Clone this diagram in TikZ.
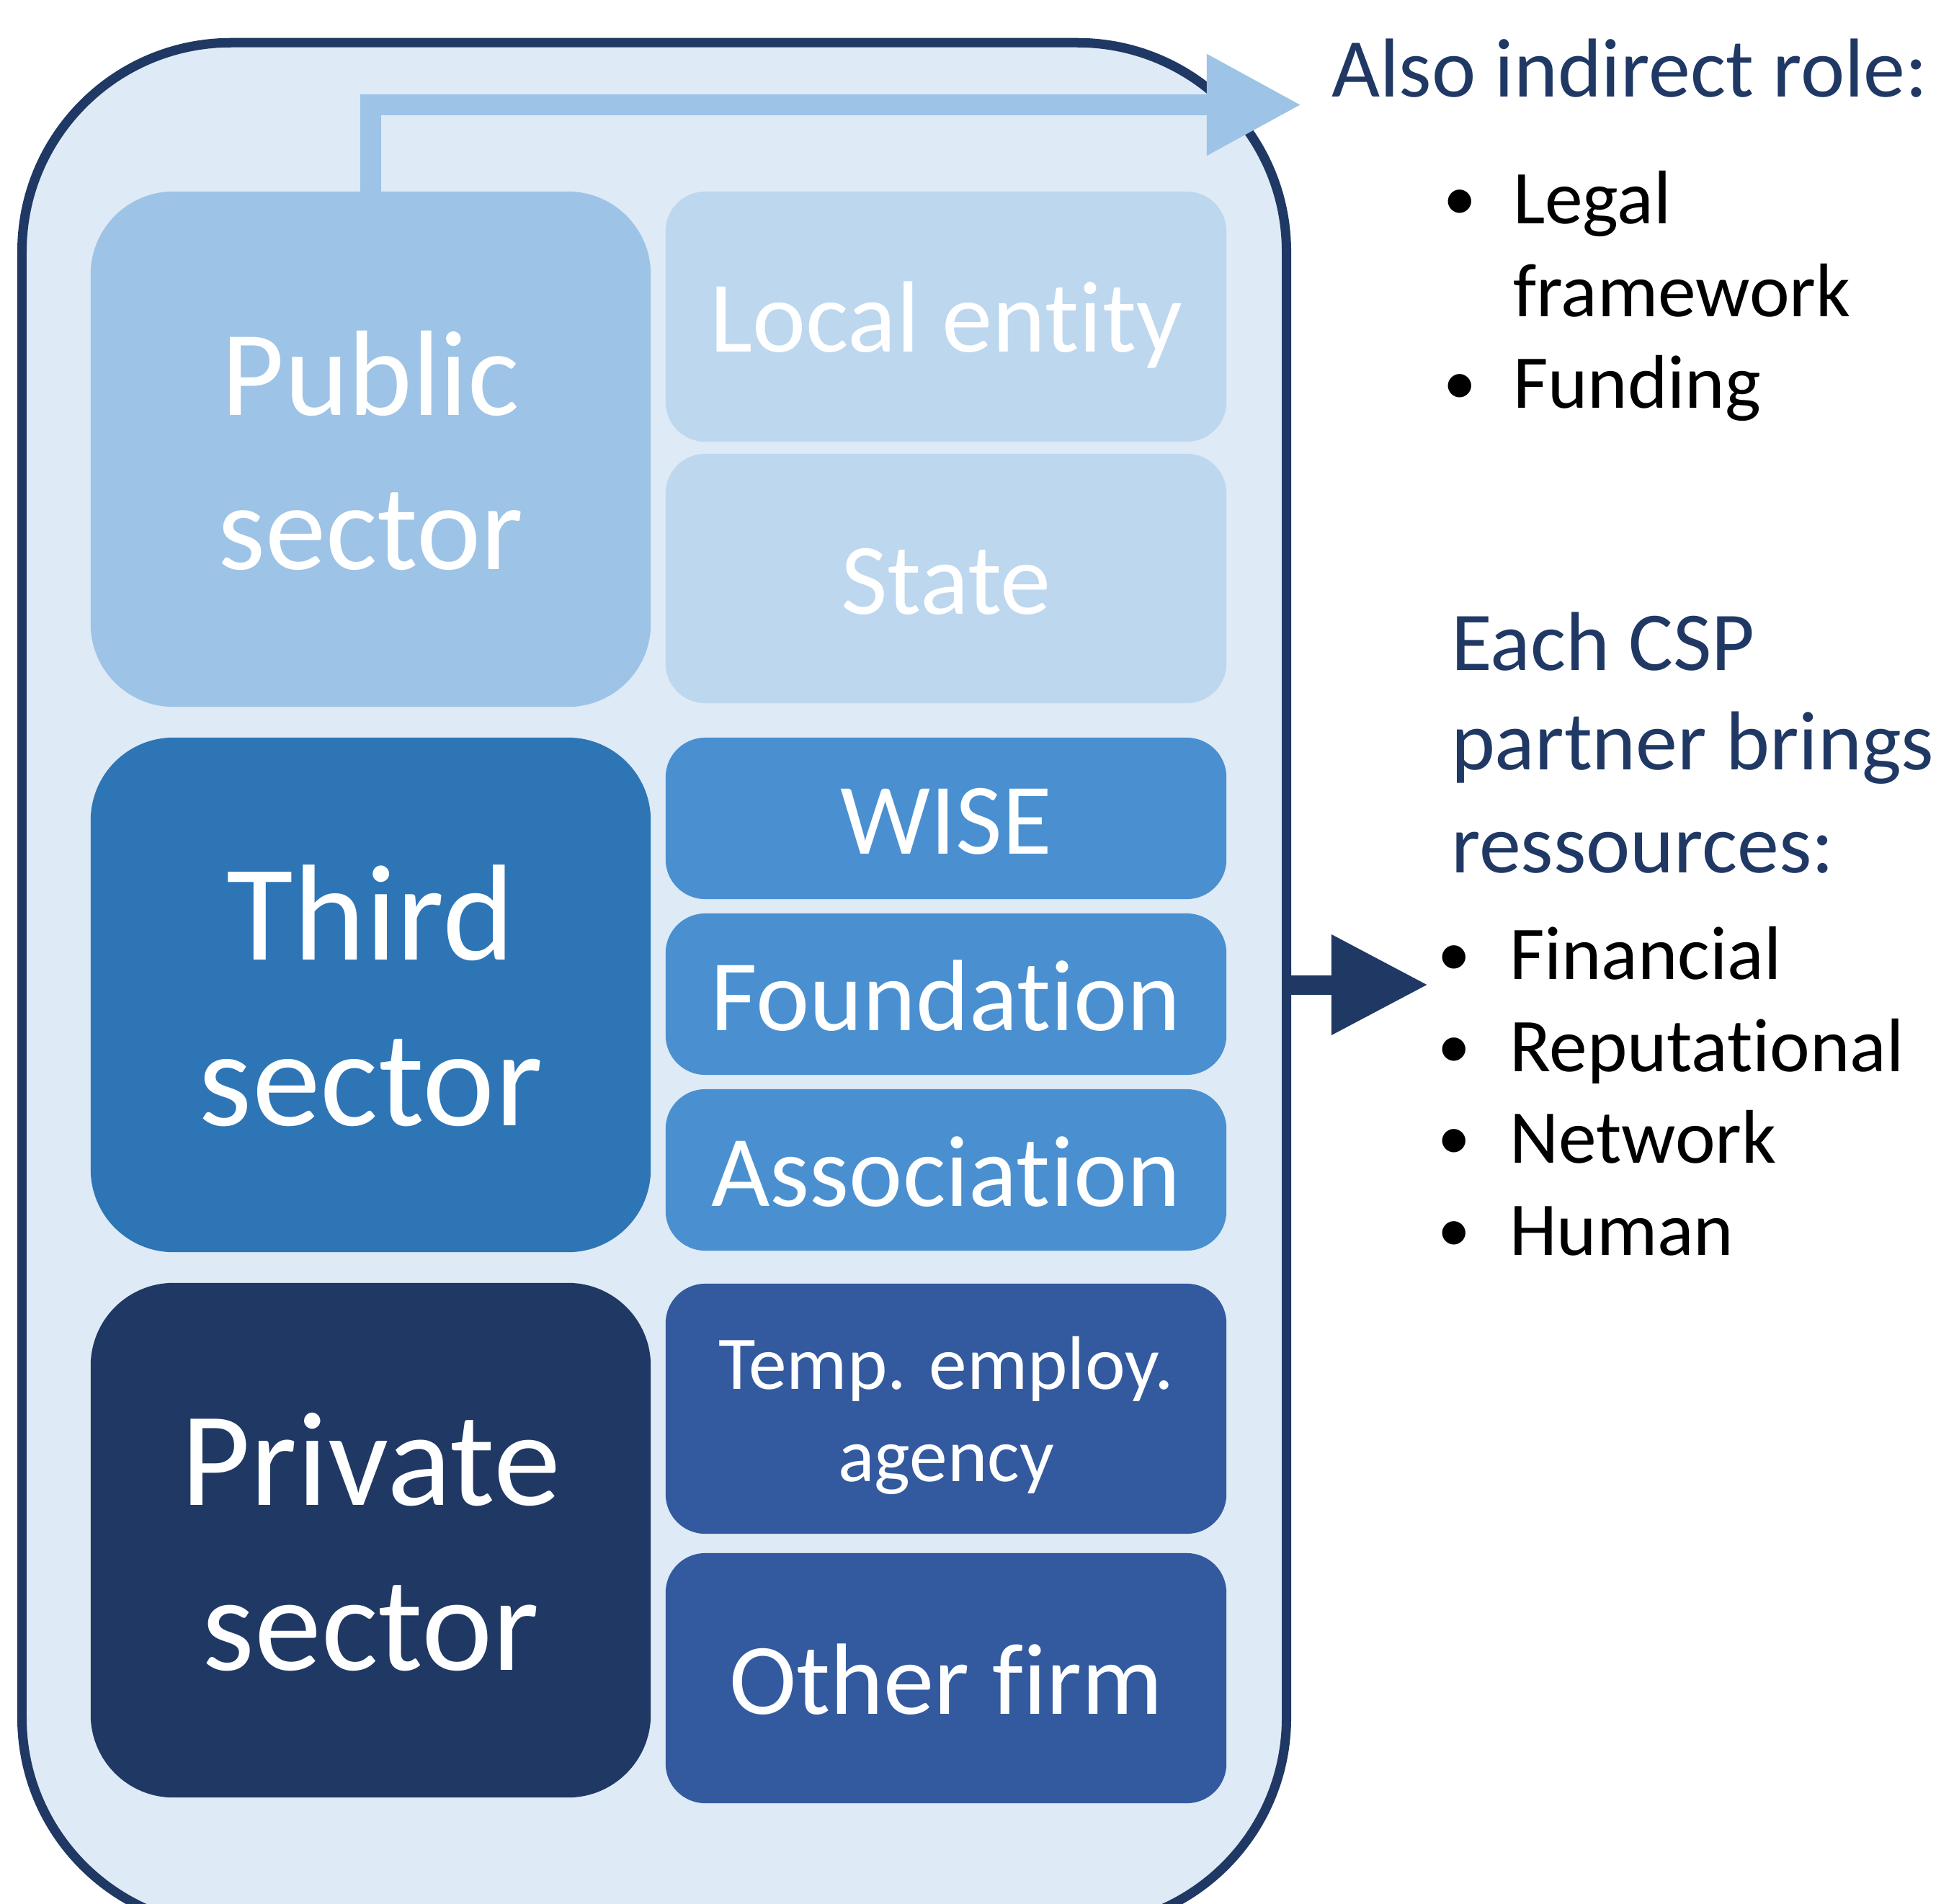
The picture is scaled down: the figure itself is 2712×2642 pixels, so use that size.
\documentclass[tikz,border=0pt]{standalone}
\usepackage{fontspec}
\setmainfont{Carlito}[Ligatures=NoCommon]
\usetikzlibrary{arrows.meta}
\definecolor{outerfill}{HTML}{DEEAF6}
\definecolor{navy}{HTML}{203864}
\definecolor{pubc}{HTML}{9DC3E6}
\definecolor{pubsub}{HTML}{BDD7EE}
\definecolor{thirdc}{HTML}{2E75B6}
\definecolor{thirdsub}{HTML}{4A90D0}
\definecolor{privc}{HTML}{203864}
\definecolor{privsub}{HTML}{335A9E}
\begin{document}
\begin{tikzpicture}[x=0.01cm, y=-0.01cm,
  sectorbox/.style={shape=rectangle, rounded corners=1.15cm, minimum width=7.77cm, minimum height=7.14cm, inner sep=0pt, outer sep=0pt},
  memberbox/.style={shape=rectangle, rounded corners=0.55cm, minimum width=7.78cm, inner sep=0pt, outer sep=0pt},
  wtxt/.style={inner sep=0pt, outer sep=0pt, anchor=base, text=white},
  rtxt/.style={inner sep=0pt, outer sep=0pt, anchor=base west},
  bul/.style={inner sep=0pt, outer sep=0pt, anchor=base, text=black, font=\fontsize{26}{32}\selectfont},
  fatarrow/.style={line width=#1, line join=miter, line cap=butt}
]
\useasboundingbox (0,0) rectangle (2712,2642);

% outer container
\node[draw=navy, line width=0.13cm, fill=outerfill, rounded corners=2.9cm,
      minimum width=17.54cm, minimum height=26.14cm, inner sep=0pt, outer sep=0pt] (outer) at (908,1367) {};

% sector boxes
\node[sectorbox, fill=pubc, minimum height=7.15cm] (pub) at (514.5,623.5) {};
\node[sectorbox, fill=thirdc] (third) at (514.5,1381) {};
\node[sectorbox, fill=privc] (priv) at (514.5,2138) {};

% member boxes
\node[memberbox, fill=pubsub, minimum height=3.47cm] (local) at (1313,439.5) {};
\node[memberbox, fill=pubsub, minimum height=3.46cm] (state) at (1313,803) {};
\node[memberbox, fill=thirdsub, minimum height=2.24cm] (wise) at (1313,1136) {};
\node[memberbox, fill=thirdsub, minimum height=2.24cm] (found) at (1313,1380) {};
\node[memberbox, fill=thirdsub, minimum height=2.24cm] (assoc) at (1313,1624) {};
\node[memberbox, fill=privsub, minimum height=3.47cm] (temp) at (1313,1955.5) {};
\node[memberbox, fill=privsub, minimum height=3.47cm] (other) at (1313,2329.5) {};

% texts in sector boxes
\node[wtxt, font=\fontsize{48}{58}\selectfont] (pubA) at (514.5,576) {Public};
\node[wtxt, font=\fontsize{48}{58}\selectfont] (pubB) at (514.5,790) {sector};
\node[wtxt, font=\fontsize{54}{65}\selectfont] (thirdA) at (514.5,1332) {Third};
\node[wtxt, font=\fontsize{54}{65}\selectfont] (thirdB) at (514.5,1562) {sector};
\node[wtxt, font=\fontsize{53}{64}\selectfont] (privA) at (514.5,2089) {Private};
\node[wtxt, font=\fontsize{53}{64}\selectfont] (privB) at (514.5,2318) {sector};

% texts in member boxes
\node[wtxt, font=\fontsize{40}{48}\selectfont] (localT) at (1313,488) {Local entity};
\node[wtxt, font=\fontsize{40}{48}\selectfont] (stateT) at (1313,852) {State};
\node[wtxt, font=\fontsize{40}{48}\selectfont] (wiseT) at (1313,1185) {WISE};
\node[wtxt, font=\fontsize{40}{48}\selectfont] (foundT) at (1313,1430) {Foundation};
\node[wtxt, font=\fontsize{40}{48}\selectfont] (assocT) at (1313,1674) {Association};
\node[wtxt, font=\fontsize{30}{36}\selectfont] (tempA) at (1313,1928) {Temp. employ.};
\node[wtxt, font=\fontsize{30}{36}\selectfont] (tempB) at (1313,2056) {agency};
\node[wtxt, font=\fontsize{40}{48}\selectfont] (otherT) at (1313,2379) {Other firm};

% arrows
\coordinate (topend) at (1806,145.5);
\draw[fatarrow=0.28cm, draw=pubc, -{Triangle[length=1.31cm, width=1.33cm]}] (pub.north) |- (topend);
\coordinate (resend) at (1982,1367);
\draw[fatarrow=0.27cm, draw=navy, -{Triangle[length=1.34cm, width=1.32cm]}] (outer.east) -- (resend);

% right-hand texts
\node[rtxt, text=navy, font=\fontsize{33}{40}\selectfont] (role) at (1848,134) {Also indirect role:};
\node[bul] (b1) at (2026,305) {•};
\node[rtxt, font=\fontsize{30}{36}\selectfont] (legal) at (2100,310) {Legal};
\node[rtxt, font=\fontsize{30}{36}\selectfont] (frame) at (2100,439) {framework};
\node[bul] (b2) at (2026,561) {•};
\node[rtxt, font=\fontsize{30}{36}\selectfont] (fund) at (2100,566) {Funding};

\node[rtxt, text=navy, font=\fontsize{33}{40}\selectfont] (eachA) at (2014,930) {Each CSP};
\node[rtxt, text=navy, font=\fontsize{33}{40}\selectfont] (eachB) at (2014,1068) {partner brings};
\node[rtxt, text=navy, font=\fontsize{33}{40}\selectfont] (eachC) at (2014,1211) {ressources:};

\node[bul] (b3) at (2018,1354) {•};
\node[rtxt, font=\fontsize{30}{36}\selectfont] (fin) at (2095,1359) {Financial};
\node[bul] (b4) at (2018,1482) {•};
\node[rtxt, font=\fontsize{30}{36}\selectfont] (rep) at (2095,1487) {Reputational};
\node[bul] (b5) at (2018,1609) {•};
\node[rtxt, font=\fontsize{30}{36}\selectfont] (net) at (2095,1614) {Network};
\node[bul] (b6) at (2018,1737) {•};
\node[rtxt, font=\fontsize{30}{36}\selectfont] (hum) at (2095,1742) {Human};
\end{tikzpicture}
\end{document}
